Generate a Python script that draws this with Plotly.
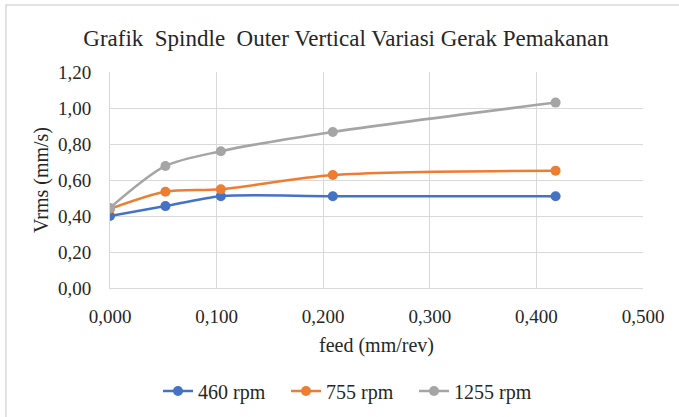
import plotly.graph_objects as go

feed = [0.0, 0.052, 0.104, 0.209, 0.418]
rpm460 = [0.40, 0.455, 0.51, 0.51, 0.51]
rpm755 = [0.44, 0.535, 0.548, 0.628, 0.652]
rpm1255 = [0.445, 0.678, 0.76, 0.867, 1.03]
series_names = ["460 rpm", "755 rpm", "1255 rpm"]
colors = ["#4472C4", "#ED7D31", "#A5A5A5"]

FONT = "Liberation Serif, Times New Roman, serif"
TXT = "#262626"

fig = go.Figure()
for name, ys, c in zip(series_names, [rpm460, rpm755, rpm1255], colors):
    fig.add_trace(go.Scatter(
        x=feed, y=ys, name=name, mode="lines+markers",
        line=dict(color=c, width=2.5, shape="spline", smoothing=0.8),
        marker=dict(color=c, size=10),
    ))

W, H = 679, 417
L, R, T, B = 110, 36, 72, 129
pw = W - L - R
ph = H - T - B

fig.update_layout(
    width=W, height=H,
    margin=dict(l=L, r=R, t=T, b=B, autoexpand=False),
    paper_bgcolor="white", plot_bgcolor="white",
    separators=", ",
    font=dict(family=FONT, size=19, color=TXT),
    title=dict(text="Grafik  Spindle  Outer Vertical Variasi Gerak Pemakanan",
               x=(346) / W, xanchor="center", y=1 - 38 / H, yanchor="middle",
               font=dict(family=FONT, size=23, color=TXT)),
    xaxis=dict(range=[0, 0.5], dtick=0.1, tickformat=".3f", automargin=False,
               showgrid=True, gridcolor="#d9d9d9", gridwidth=1,
               showline=True, linecolor="#d9d9d9", linewidth=1,
               zeroline=False, ticks="", ticklen=0, ticklabelstandoff=11,
               tickfont=dict(family=FONT, size=19, color=TXT),
               title=dict(text="feed (mm/rev)", standoff=12,
                          font=dict(family=FONT, size=20, color=TXT))),
    yaxis=dict(range=[0, 1.2], dtick=0.2, tickformat=".2f", automargin=False,
               showgrid=True, gridcolor="#d9d9d9", gridwidth=1,
               showline=True, linecolor="#d9d9d9", linewidth=1,
               zeroline=False, ticks="", ticklen=0, ticklabelstandoff=14,
               tickfont=dict(family=FONT, size=19, color=TXT),
               title=dict(text="Vrms (mm/s)", standoff=3,
                          font=dict(family=FONT, size=20, color=TXT))),
    legend=dict(orientation="h", x=(158 - L) / pw, xanchor="left",
                y=(H - B - 391) / ph, yanchor="middle",
                entrywidth=83,
                font=dict(family=FONT, size=20, color=TXT),
                bgcolor="rgba(0,0,0,0)"),
    showlegend=True,
)

fig.add_shape(type="rect", xref="paper", yref="paper",
              x0=(6 - L) / pw, x1=(W + 5 - L) / pw,
              y0=(H - B - (H + 5)) / ph, y1=(H - B - 5) / ph,
              line=dict(color="#d9d9d9", width=1.5), fillcolor="rgba(0,0,0,0)",
              layer="below")

fig.write_html("out.html")
